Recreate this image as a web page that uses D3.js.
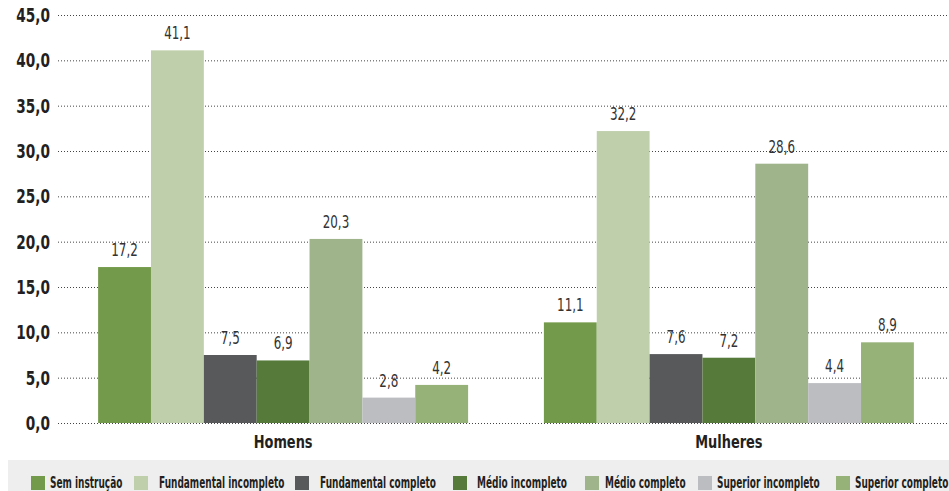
<!DOCTYPE html>
<html><head><meta charset="utf-8">
<script src="https://cdn.jsdelivr.net/npm/d3@7"></script>
<style>
html,body{margin:0;padding:0;background:#fff;}
svg{display:block;}
</style></head>
<body>
<svg id="chart" width="949" height="491"></svg>
<script>
const groups = ["Homens", "Mulheres"];
const series = ["Sem instrução", "Fundamental incompleto", "Fundamental completo", "Médio incompleto", "Médio completo", "Superior incompleto", "Superior completo"];
const homens = [17.2, 41.1, 7.5, 6.9, 20.3, 2.8, 4.2];
const mulheres = [11.1, 32.2, 7.6, 7.2, 28.6, 4.4, 8.9];
const colors = ["#739a4a", "#bfcfab", "#58595b", "#557a39", "#a0b48c", "#bcbdc1", "#97b279"];
const yTicks = [0, 5, 10, 15, 20, 25, 30, 35, 40, 45];

(function () {
const values = {Homens: homens, Mulheres: mulheres};
const font = "'DejaVu Sans Condensed','DejaVu Sans',sans-serif";

const svg = d3.select("#chart");
const W = 949;
const mLeft = 58, mRight = 954, mTop = 15, mBottom = 423;

function ctext(parent, x, y, str, f, anchor) {
  return parent.append("text")
    .attr("transform", `translate(${x},${y}) scale(${f},1)`)
    .attr("text-anchor", anchor || "start")
    .text(str);
}

const y = d3.scaleLinear().domain([0, 45]).range([mBottom, mTop]);
const x0 = d3.scaleBand().domain(groups).range([mLeft, mRight]).paddingInner(0.17).paddingOuter(0.09);
const x1 = d3.scaleBand().domain(series).range([0, x0.bandwidth()]);
const color = d3.scaleOrdinal().domain(series).range(colors);
const fmt = v => d3.format(".1f")(v).replace(".", ",");

const yAxis = d3.axisLeft(y).tickValues(yTicks).tickSize(-(W - mLeft)).tickFormat("");
const ga = svg.append("g").attr("transform", `translate(${mLeft},0)`).call(yAxis);
ga.select(".domain").remove();
ga.selectAll(".tick line").attr("stroke", "#444").attr("stroke-dasharray", "1,2").attr("stroke-width", 1);
ga.selectAll(".tick text").remove();
const tl = svg.append("g").attr("fill", "#231f20").style("font-family", font)
  .style("font-weight", "bold").style("font-size", "20px");
yTicks.forEach(t => ctext(tl, 50, y(t) + 7, fmt(t), 0.76, "end"));

const g = svg.append("g");
groups.forEach(grp => {
  const gg = g.append("g").attr("transform", `translate(${x0(grp)},0)`);
  const data = series.map((s, i) => ({s, v: values[grp][i]}));
  gg.selectAll("rect").data(data).enter().append("rect")
    .attr("x", d => x1(d.s)).attr("width", x1.bandwidth())
    .attr("y", d => y(d.v)).attr("height", d => y(0) - y(d.v))
    .attr("fill", d => color(d.s));
  const vg = gg.append("g").attr("fill", "#333").style("font-family", font)
    .style("font-weight", "300").style("font-size", "17px");
  data.forEach(d => ctext(vg, x1(d.s) + x1.bandwidth() / 2, y(d.v) - 11, fmt(d.v), 0.78, "middle"));
  const cg = svg.append("g").attr("fill", "#231f20").style("font-family", font)
    .style("font-weight", "bold").style("font-size", "18px");
  ctext(cg, x0(grp) + x0.bandwidth() / 2, 448, grp, 0.8, "middle");
});

svg.append("rect").attr("x", 8).attr("y", 460).attr("width", W - 8).attr("height", 31).attr("fill", "#eeeeee");
const swX = [31, 134, 295, 453, 585, 698, 836];
const txX = [50, 159, 320, 477, 605, 717, 855];
const lg = svg.append("g").attr("fill", "#231f20").style("font-family", font)
  .style("font-weight", "bold").style("font-size", "15px");
series.forEach((s, i) => {
  svg.append("rect").attr("x", swX[i]).attr("y", 476).attr("width", 14).attr("height", 14).attr("fill", colors[i]);
  ctext(lg, txX[i], 487.5, s, 0.665);
});
})();
</script>
</body></html>
